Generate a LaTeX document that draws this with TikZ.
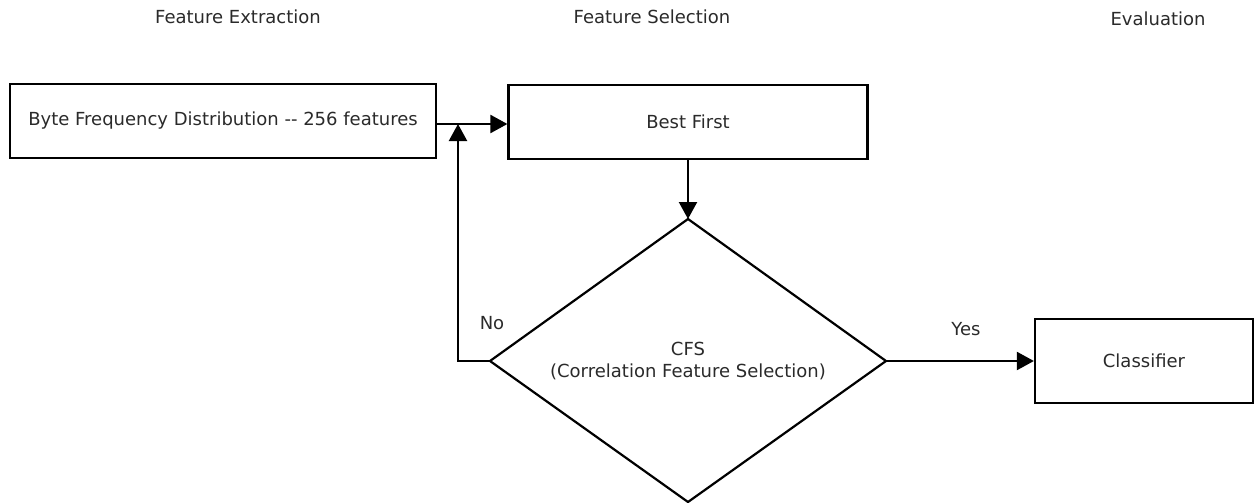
\documentclass[tikz,border=0pt]{standalone}
\usepackage{fontspec}
\setmainfont{DejaVu Sans}
\usetikzlibrary{arrows.meta}
\definecolor{txt}{HTML}{2A2A2A}
\begin{document}
\begin{tikzpicture}[x=1pt,y=-1pt,line width=2.2pt,
  lbl/.style={text=txt,inner sep=0pt,font=\fontsize{18}{21.5}\selectfont},
  box/.style={draw,rectangle,inner sep=0pt,text=txt,font=\fontsize{18}{21.5}\selectfont},
  flow/.style={-{Triangle[length=17pt,width=18pt]}}]
\useasboundingbox (0,0) rectangle (1254,503);

% column headings
\node[lbl] (h1) at (238,17) {Feature Extraction};
\node[lbl] (h2) at (652,17) {Feature Selection};
\node[lbl] (h3) at (1158,19) {Evaluation};

% process boxes
\node[box,minimum width=426pt,minimum height=74pt] (bfd) at (223,121)
  {Byte Frequency Distribution -{}- 256 features};
\node[box,minimum width=359pt,minimum height=74pt] (best) at (688,122) {Best First};
\node[box,minimum width=218pt,minimum height=84pt] (cls) at (1144,361) {Classifier};

% decision diamond
\coordinate (dtop) at (688,219);
\coordinate (dleft) at (490,361);
\coordinate (dright) at (886,361);
\coordinate (dbot) at (688,502);
\draw (dtop) -- (dright) -- (dbot) -- (dleft) -- cycle;
\node[lbl,align=center] (cfs) at (688,361)
  {CFS\\(Correlation Feature Selection)};

% connectors
\coordinate (join) at (458,124);
\draw[flow] (bfd.east |- join) -- (best.west |- join);
\draw[flow] (best.south) -- (dtop);
\draw[flow] (dleft) -| (join);
\draw[flow] (dright) -- (cls.west);

% branch labels
\node[lbl] (no) at (492,323) {No};
\node[lbl] (yes) at (966,329) {Yes};
\end{tikzpicture}
\end{document}
